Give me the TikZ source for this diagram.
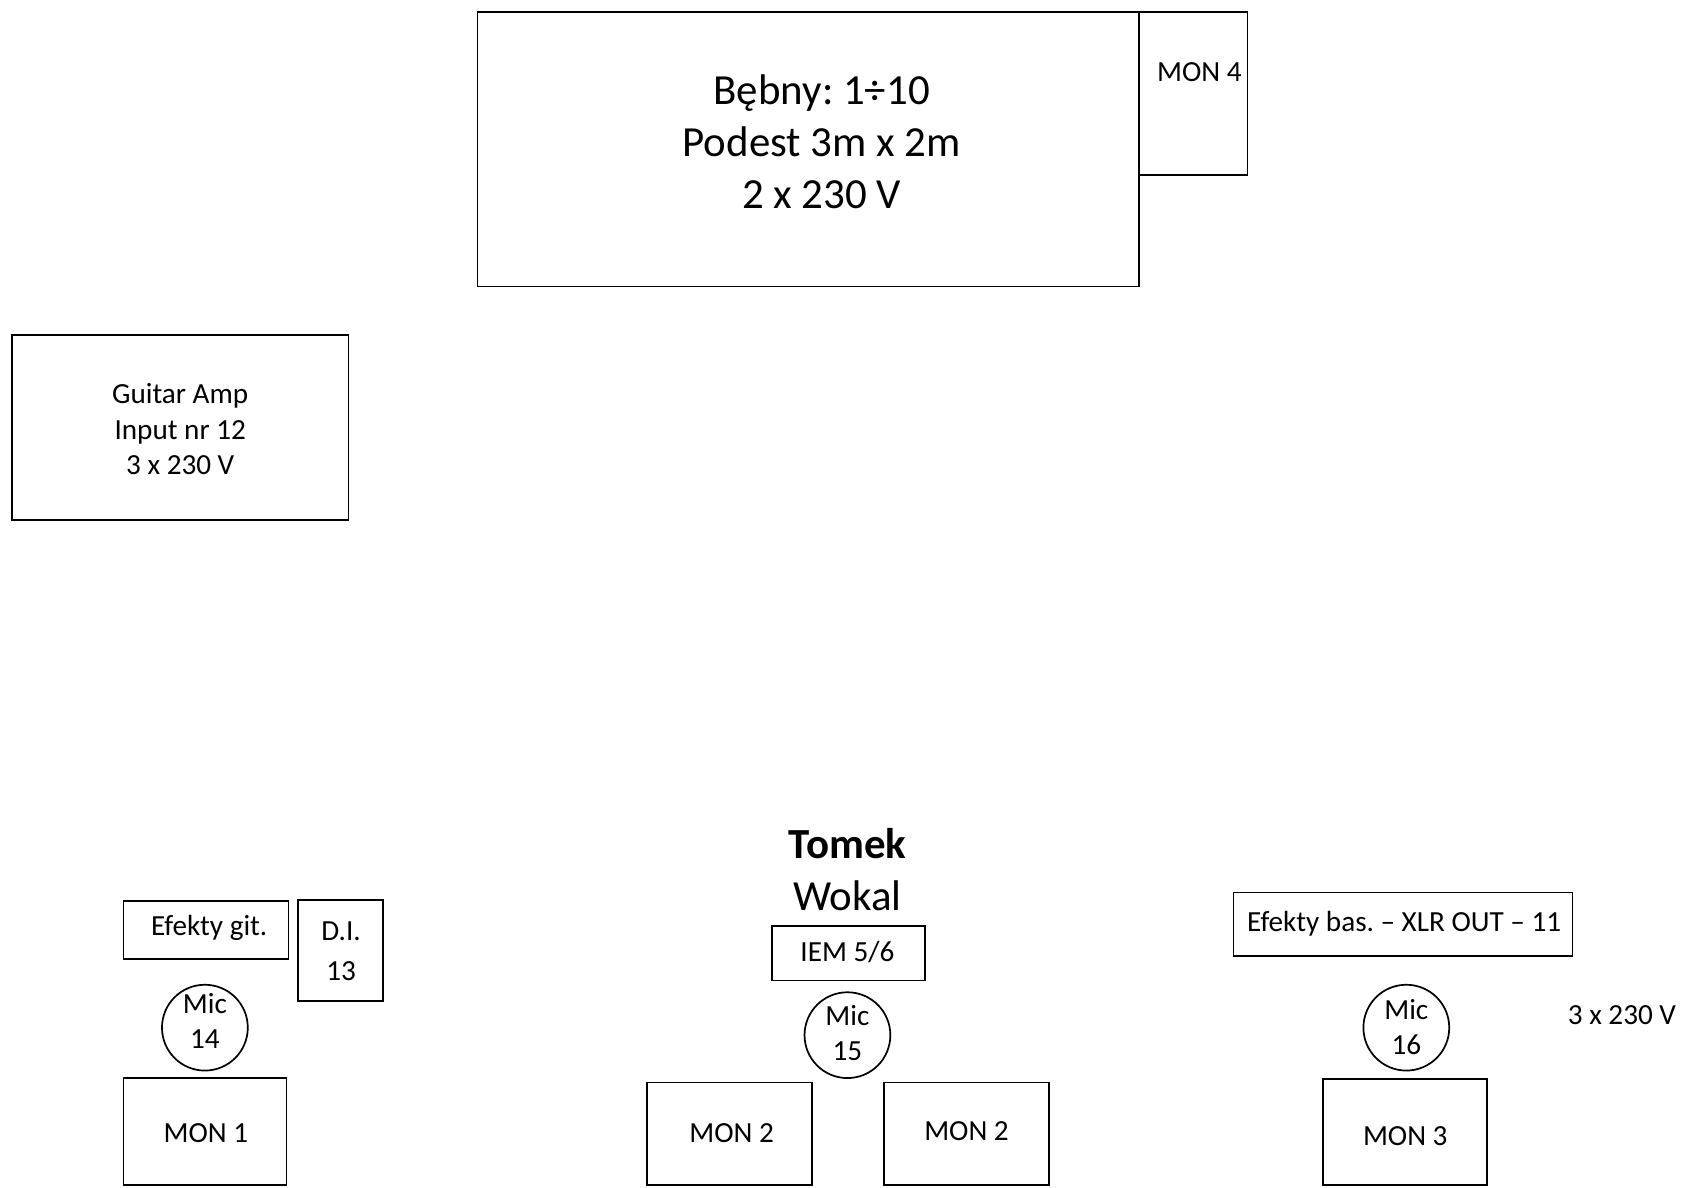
\documentclass[tikz,border=0pt]{standalone}
\usepackage{fontspec}
\setmainfont{Carlito}
\frenchspacing
\begin{document}
\begin{tikzpicture}[x=0.5pt,y=-0.5pt,
  box/.style={draw, rectangle, line width=0.8pt, inner sep=0pt, outer sep=0pt},
  mic/.style={draw, circle, line width=0.8pt, inner sep=0pt, outer sep=0pt, minimum size=40pt},
  small/.style={font=\fontsize{13.6}{16.5}\selectfont\frenchspacing, align=center, inner sep=0pt},
  big/.style={font=\fontsize{20}{24.25}\selectfont\frenchspacing, align=center, inner sep=0pt}]
\useasboundingbox[fill=white] (0,0) rectangle (1568,1107);
% drums
\node[box, minimum width=308.5pt, minimum height=128pt] (drum) at (753.5,139) {};
\node[big] (drumt) at (766,132) {Bębny: 1÷10\\Podest 3m x 2m\\2 x 230 V};
\node[box, minimum width=50.5pt, minimum height=76pt] (mon4) at (1112.5,87) {};
\node[small] (mon4t) at (1118,67) {MON 4};
% guitar amp
\node[box, minimum width=157pt, minimum height=86.5pt] (amp) at (168,398.5) {};
\node[small] (ampt) at (168,400) {Guitar Amp\\Input nr 12\\3 x 230 V};
% left group
\node[box, minimum width=77pt, minimum height=27pt] (efgit) at (192,867) {};
\node[small] (efgitt) at (195,865) {Efekty git.};
\node[box, minimum width=39.5pt, minimum height=47pt] (di) at (317.5,886) {};
\node[small, font=\fontsize{13.6}{18.5}\selectfont] (dit) at (318,886.5) {D.I.\\13};
\node[mic] (mic14) at (191,958) {};
\node[small] (mic14t) at (191,951.5) {Mic\\14};
\node[box, minimum width=76pt, minimum height=50pt] (mon1) at (191,1055) {};
\node[small] (mon1t) at (192,1056) {MON 1};
% centre group
\node[big] (tomek) at (790,811) {\textbf{Tomek}\\Wokal};
\node[box, minimum width=71pt, minimum height=25.5pt] (iem) at (791,888.5) {};
\node[small] (iemt) at (790,887) {IEM 5/6};
\node[mic] (mic15) at (790,965) {};
\node[small] (mic15t) at (790,963) {Mic\\15};
\node[box, minimum width=77pt, minimum height=48pt] (mon2a) at (680,1057) {};
\node[small] (mon2at) at (682,1056) {MON 2};
\node[box, minimum width=77pt, minimum height=48pt] (mon2b) at (901,1057) {};
\node[small] (mon2bt) at (901,1054) {MON 2};
% right group
\node[box, minimum width=158pt, minimum height=29.5pt] (efbas) at (1308,861.5) {};
\node[small] (efbast) at (1309,861) {Efekty bas. – XLR OUT – 11};
\node[mic] (mic16) at (1311,958) {};
\node[small] (mic16t) at (1311,957.5) {Mic\\16};
\node[box, minimum width=76.5pt, minimum height=49.5pt] (mon3) at (1309.5,1055.5) {};
\node[small] (mon3t) at (1310,1059) {MON 3};
\node[small] (pwr) at (1512,946) {3 x 230 V};
\end{tikzpicture}
\end{document}
